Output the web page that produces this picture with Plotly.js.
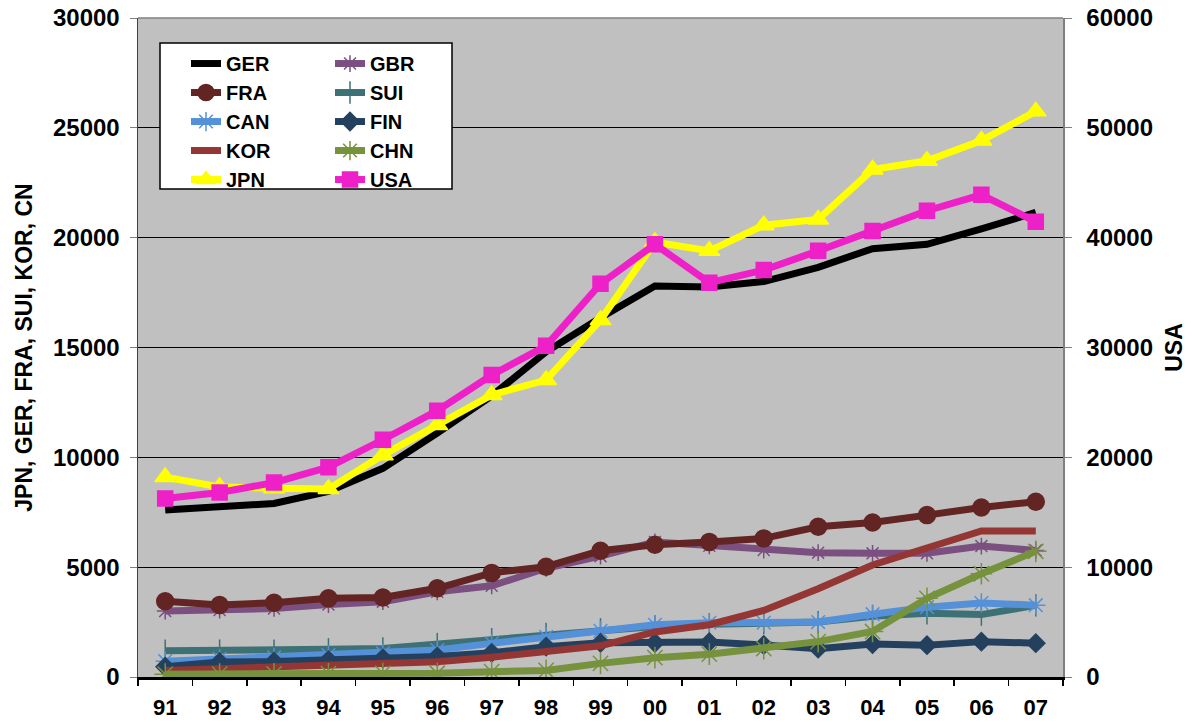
<!DOCTYPE html>
<html>
<head>
<meta charset="utf-8">
<script src="https://cdn.plot.ly/plotly-3.0.1.min.js"></script>
<style>html,body{margin:0;padding:0;background:#fff;}#chart{width:1194px;height:722px;}</style>
</head>
<body>
<div id="chart"></div>
<script>
var years = ["91","92","93","94","95","96","97","98","99","00","01","02","03","04","05","06","07"];

var GER = [7600, 7750, 7900, 8450, 9500, 11100, 12800, 14800, 16350, 17800, 17750, 18000, 18650, 19500, 19700, 20400, 21150];
var GBR = [3000, 3050, 3120, 3300, 3430, 3880, 4150, 4950, 5500, 6150, 5970, 5780, 5660, 5630, 5630, 5960, 5760];
var FRA = [3450, 3280, 3380, 3580, 3620, 4040, 4740, 5020, 5750, 6020, 6150, 6310, 6840, 7030, 7370, 7720, 7980];
var SUI = [1200, 1200, 1200, 1260, 1300, 1500, 1720, 1960, 2170, 2300, 2400, 2450, 2500, 2760, 2900, 2840, 3260];
var CAN = [720, 830, 900, 1000, 1080, 1230, 1530, 1830, 2100, 2380, 2470, 2470, 2500, 2860, 3180, 3370, 3270];
var FIN = [470, 680, 700, 770, 850, 930, 1100, 1380, 1560, 1560, 1590, 1460, 1290, 1500, 1450, 1610, 1540];
var KOR = [300, 380, 450, 530, 600, 690, 900, 1200, 1420, 2050, 2380, 3030, 4020, 5100, 5850, 6650, 6650];
var CHN = [130, 130, 140, 150, 160, 170, 240, 300, 620, 880, 1040, 1290, 1610, 2070, 3580, 4700, 5720];
var JPN = [9100, 8650, 8590, 8560, 10100, 11470, 12840, 13520, 16250, 19800, 19400, 20570, 20830, 23100, 23500, 24420, 25750];
var USA = [16250, 16800, 17700, 19100, 21600, 24250, 27500, 30150, 35800, 39400, 35900, 37050, 38800, 40600, 42450, 43900, 41450];

var font = "Liberation Sans, Arial, sans-serif";

function tr(name, y, color, symbol, msize, legend, yaxis) {
  var t = {
    x: years, y: y, name: name, type: "scatter",
    mode: symbol ? "lines+markers" : "lines",
    line: {color: color, width: 7},
    legend: legend,
    legendgroup: name,
    yaxis: yaxis || "y"
  };
  if (symbol) {
    t.marker = {symbol: symbol, size: msize, color: color, line: {color: color, width: 1.5}};
  }
  return t;
}

var data = [
  tr("GER", GER, "#000000", null, 0, "legend"),
  tr("GBR", GBR, "#7B4F80", "asterisk-open", 14, "legend2"),
  tr("FRA", FRA, "#632523", "circle", 17, "legend"),
  tr("SUI", SUI, "#3D7175", "line-ns-open", 16, "legend2"),
  tr("CAN", CAN, "#5591D8", "asterisk-open", 16, "legend"),
  tr("FIN", FIN, "#24405F", "diamond", 14, "legend2"),
  tr("KOR", KOR, "#943634", null, 0, "legend"),
  tr("CHN", CHN, "#76923C", "asterisk-open", 18, "legend2"),
  tr("JPN", JPN, "#FFFF00", "triangle-up", 18, "legend"),
  tr("USA", USA, "#EE20C8", "square", 15, "legend2", "y2")
];

var legendCommon = {
  bgcolor: "rgba(0,0,0,0)", borderwidth: 0,
  font: {family: font, size: 20, color: "#000", weight: "bold"},
  xanchor: "left", yanchor: "top", y: 0.9605,
  tracegroupgap: 0, itemwidth: 30
};

var layout = {
  width: 1194, height: 722,
  margin: {l: 138, r: 131, t: 18, b: 45},
  paper_bgcolor: "#ffffff",
  plot_bgcolor: "#C0C0C0",
  font: {family: font, size: 24, color: "#000", weight: "bold"},
  showlegend: true,
  legend: Object.assign({}, legendCommon, {x: (186 - 138) / 925}),
  legend2: Object.assign({}, legendCommon, {x: (330 - 138) / 925}),
  xaxis: {
    type: "category", range: [-0.5, 16.5],
    tickson: "boundaries", ticks: "outside", ticklen: 6, tickcolor: "#000", tickwidth: 1.5,
    showgrid: false, showline: true, linecolor: "#000", linewidth: 2.5,
    ticklabelstandoff: 9,
    tickfont: {family: font, size: 22, color: "#000", weight: "bold"}
  },
  yaxis: {
    range: [0, 30000], dtick: 5000, tickformat: "d",
    ticks: "outside", ticklen: 7, tickcolor: "#808080",
    showgrid: true, gridcolor: "#000", gridwidth: 1,
    showline: true, linecolor: "#404040", linewidth: 1.5,
    zeroline: false, ticklabelstandoff: 5,
    tickfont: {family: font, size: 24, color: "#000", weight: "bold"},
    title: {text: "JPN, GER, FRA, SUI, KOR, CN", standoff: 14,
            font: {family: font, size: 23, color: "#000", weight: "bold"}}
  },
  yaxis2: {
    overlaying: "y", side: "right",
    range: [0, 60000], dtick: 10000, tickformat: "d",
    ticks: "outside", ticklen: 7, tickcolor: "#808080",
    showgrid: false, zeroline: false, ticklabelstandoff: 10,
    showline: true, linecolor: "#808080", linewidth: 1.5,
    tickfont: {family: font, size: 24, color: "#000", weight: "bold"},
    title: {text: "USA", standoff: 14,
            font: {family: font, size: 23, color: "#000", weight: "bold"}}
  },
  shapes: [
    {type: "line", xref: "paper", yref: "paper", x0: 0, x1: 1, y0: 1, y1: 1,
     line: {color: "#808080", width: 1.5}, layer: "above"},
    {type: "rect", xref: "paper", yref: "paper",
     x0: (160 - 138) / 925, x1: (452 - 138) / 925,
     y0: (677 - 189) / 659, y1: (677 - 43) / 659,
     fillcolor: "#ffffff", line: {color: "#000", width: 1.5}, layer: "above"}
  ]
};

Plotly.newPlot("chart", data, layout, {displayModeBar: false, staticPlot: true});
</script>
</body>
</html>
